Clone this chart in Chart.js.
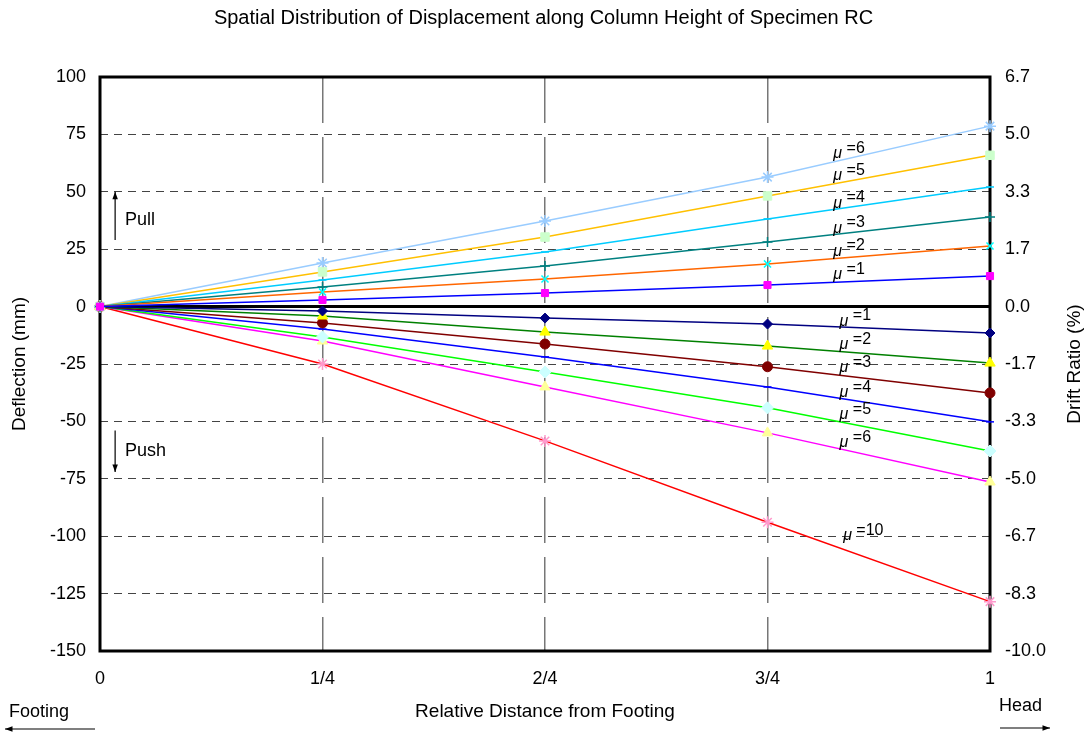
<!DOCTYPE html>
<html>
<head>
<meta charset="utf-8">
<script src="https://cdn.jsdelivr.net/npm/chart.js@4/dist/chart.umd.min.js"></script>
<style>
  html, body { margin: 0; padding: 0; background: #fff; }
  #wrap { width: 1087px; height: 733px; }
</style>
</head>
<body>
<div id="wrap"><canvas id="chart"></canvas></div>
<script>
// relative distance from footing
const xPos = [0, 0.25, 0.5, 0.75, 1];
const xTickLabels = ['0', '1/4', '2/4', '3/4', '1'];

// deflection (mm), pull side
const pullMu1 = [0, 2.9, 5.9, 9.4, 13.3];
const pullMu2 = [0, 6.4, 12.0, 18.6, 26.4];
const pullMu3 = [0, 8.5, 17.7, 28.1, 39.0];
const pullMu4 = [0, 11.6, 23.8, 38.2, 52.1];
const pullMu5 = [0, 15.1, 30.3, 48.2, 65.9];
const pullMu6 = [0, 19.0, 37.3, 56.4, 78.6];

// deflection (mm), push side
const pushMu1 = [0, -1.9, -5.0, -7.6, -11.5];
const pushMu2 = [0, -4.1, -11.1, -17.2, -24.6];
const pushMu3 = [0, -7.1, -16.3, -26.2, -37.6];
const pushMu4 = [0, -9.8, -21.9, -35.0, -50.2];
const pushMu5 = [0, -13.2, -28.5, -44.1, -62.9];
const pushMu6 = [0, -15.0, -35.0, -55.0, -76.4];
const pushMu10 = [0, -25.0, -58.5, -93.9, -128.5];

const COLUMN_HEIGHT = 1500; // mm, for drift ratio axis

const FONT = 'Liberation Sans, Arial, sans-serif';

function pts(vals) {
    return vals.map((v, i) => ({ x: xPos[i], y: v }));
}

function series(label, vals, lineColor, markColor, style, radius) {
    return {
        label: label,
        data: pts(vals),
        borderColor: lineColor,
        borderWidth: 1.5,
        pointStyle: style,
        pointRadius: radius || 5,
        pointBackgroundColor: markColor,
        pointBorderColor: markColor,
        pointBorderWidth: (style === 'line' || style === 'cross' || style === 'crossRot' || style === 'star') ? 1.5 : 1,
        tension: 0,
        clip: false,
        fill: false
    };
}

const datasets = [
    series('pull mu=1', pullMu1, '#0000FF', '#FF00FF', 'rect', 5),
    series('pull mu=2', pullMu2, '#FF6600', '#00FFFF', 'crossRot', 5),
    series('pull mu=3', pullMu3, '#008080', '#008080', 'cross', 5),
    series('pull mu=4', pullMu4, '#00CCFF', '#00CCFF', 'line', 4),
    series('pull mu=5', pullMu5, '#FFC000', '#CCFFCC', 'rect', 6),
    series('pull mu=6', pullMu6, '#99CCFF', '#99CCFF', 'star', 6),
    series('push mu=1', pushMu1, '#000080', '#000080', 'rectRot', 5),
    series('push mu=2', pushMu2, '#008000', '#FFFF00', 'triangle', 6),
    series('push mu=3', pushMu3, '#800000', '#800000', 'circle', 5),
    series('push mu=4', pushMu4, '#0000FF', '#0000FF', 'line', 4),
    series('push mu=5', pushMu5, '#00FF00', '#CCFFFF', 'rectRot', 6),
    series('push mu=6', pushMu6, '#FF00FF', '#FFFF99', 'triangle', 6),
    series('push mu=10', pushMu10, '#FF0000', '#FF99CC', 'star', 6)
];

// curve labels, anchored in data units
const muLabels = ['=6', '=5', '=4', '=3', '=2', '=1', '=1', '=2', '=3', '=4', '=5', '=6', '=10'];
const muLabelX = [0.824, 0.824, 0.824, 0.824, 0.824, 0.824, 0.831, 0.831, 0.831, 0.831, 0.831, 0.831, 0.835];
const muLabelY = [67.8, 58.2, 46.4, 35.5, 25.5, 15.1, -5.0, -15.4, -25.4, -36.3, -45.9, -58.1, -98.6];

const decorations = {
    id: 'decorations',
    beforeDatasetsDraw(chart) {
        const ctx = chart.ctx;
        const a = chart.chartArea;
        const ys = chart.scales.y;
        ctx.save();
        ctx.strokeStyle = '#000';
        ctx.lineWidth = 3;
        ctx.beginPath();
        const y0 = ys.getPixelForValue(0);
        ctx.moveTo(a.left, y0);
        ctx.lineTo(a.right, y0);
        ctx.stroke();
        ctx.strokeRect(a.left, a.top, a.right - a.left, a.bottom - a.top);
        ctx.restore();
    },
    afterDatasetsDraw(chart) {
        const ctx = chart.ctx;
        const a = chart.chartArea;
        const xs = chart.scales.x;
        const ys = chart.scales.y;
        ctx.save();
        ctx.fillStyle = '#000';
        ctx.textBaseline = 'middle';
        for (let i = 0; i < muLabels.length; ++i) {
            const px = xs.getPixelForValue(muLabelX[i]);
            const py = ys.getPixelForValue(muLabelY[i]);
            ctx.font = 'italic 16px ' + FONT;
            ctx.textAlign = 'left';
            ctx.fillText('\u03bc', px, py + 3);
            const w = ctx.measureText('\u03bc ').width;
            ctx.font = '16px ' + FONT;
            ctx.fillText(muLabels[i], px + w, py - 2);
        }

        // pull / push arrows
        function arrow(x1, y1, x2, y2) {
            const ang = Math.atan2(y2 - y1, x2 - x1);
            ctx.beginPath();
            ctx.moveTo(x1, y1);
            ctx.lineTo(x2, y2);
            ctx.stroke();
            ctx.beginPath();
            ctx.moveTo(x2, y2);
            ctx.lineTo(x2 - 8 * Math.cos(ang - 0.35), y2 - 8 * Math.sin(ang - 0.35));
            ctx.lineTo(x2 - 8 * Math.cos(ang + 0.35), y2 - 8 * Math.sin(ang + 0.35));
            ctx.closePath();
            ctx.fill();
        }
        ctx.strokeStyle = '#000';
        ctx.lineWidth = 1.2;
        const ax = xs.getPixelForValue(0.017);
        arrow(ax, ys.getPixelForValue(29), ax, ys.getPixelForValue(50));
        arrow(ax, ys.getPixelForValue(-54), ax, ys.getPixelForValue(-72));
        ctx.font = '18px ' + FONT;
        ctx.textAlign = 'left';
        ctx.fillText('Pull', xs.getPixelForValue(0.028), ys.getPixelForValue(37.5));
        ctx.fillText('Push', xs.getPixelForValue(0.028), ys.getPixelForValue(-63));

        // footing / head markers below the axis
        const H = chart.height;
        ctx.fillText('Footing', 9, H - 21);
        arrow(95, H - 4, 5, H - 4);
        ctx.fillText('Head', 999, H - 27);
        arrow(1000, H - 5, 1050, H - 5);

        // right axis title, reading bottom to top
        ctx.font = '19px ' + FONT;
        ctx.translate(chart.width - 12, (a.top + a.bottom) / 2);
        ctx.rotate(-Math.PI / 2);
        ctx.textAlign = 'center';
        ctx.fillText('Drift Ratio (%)', 0, 0);
        ctx.restore();
    }
};

const config = {
    type: 'line',
    data: { datasets: datasets },
    options: {
        responsive: true,
        maintainAspectRatio: false,
        animation: false,
        layout: { padding: 0 },
        plugins: {
            legend: { display: false },
            tooltip: { enabled: false },
            title: {
                display: true,
                text: 'Spatial Distribution of Displacement along Column Height of Specimen RC',
                color: '#000',
                font: { family: FONT, size: 20, weight: 'normal' },
                padding: { top: 6, bottom: 47 }
            }
        },
        scales: {
            x: {
                type: 'linear',
                min: 0,
                max: 1,
                afterFit(s) { s.height = 82; },
                ticks: {
                    stepSize: 0.25,
                    padding: 17,
                    color: '#000',
                    font: { family: FONT, size: 18 },
                    callback: (v) => xTickLabels[Math.round(v * 4)]
                },
                grid: {
                    drawTicks: false,
                    color: (c) => (c.tick && (c.tick.value === 0 || c.tick.value === 1)) ? 'rgba(0,0,0,0)' : '#777',
                    lineWidth: 1.5
                },
                border: { display: false, dash: [46, 14] },
                title: {
                    display: true,
                    text: 'Relative Distance from Footing',
                    color: '#000',
                    font: { family: FONT, size: 19 },
                    padding: { top: 4, bottom: 10 }
                }
            },
            y: {
                type: 'linear',
                position: 'left',
                min: -150,
                max: 100,
                afterFit(s) { s.width = 100; },
                ticks: {
                    stepSize: 25,
                    padding: 14,
                    color: '#000',
                    font: { family: FONT, size: 18 }
                },
                grid: {
                    drawTicks: false,
                    color: (c) => (c.tick && (c.tick.value === 0 || c.tick.value === 100 || c.tick.value === -150)) ? 'rgba(0,0,0,0)' : '#444',
                    lineWidth: 1
                },
                border: { display: false, dash: [8, 6] },
                title: {
                    display: true,
                    text: 'Deflection (mm)',
                    color: '#000',
                    font: { family: FONT, size: 19 },
                    padding: { top: 8, bottom: 0 }
                }
            },
            y2: {
                type: 'linear',
                position: 'right',
                min: -150,
                max: 100,
                afterFit(s) { s.width = 97; },
                ticks: {
                    stepSize: 25,
                    padding: 15,
                    color: '#000',
                    font: { family: FONT, size: 18 },
                    callback: (v) => (v / COLUMN_HEIGHT * 100).toFixed(1)
                },
                grid: { display: false, drawTicks: false },
                border: { display: false }
            }
        }
    },
    plugins: [decorations]
};

const myChart = new Chart(document.getElementById('chart'), config);
</script>
</body>
</html>
